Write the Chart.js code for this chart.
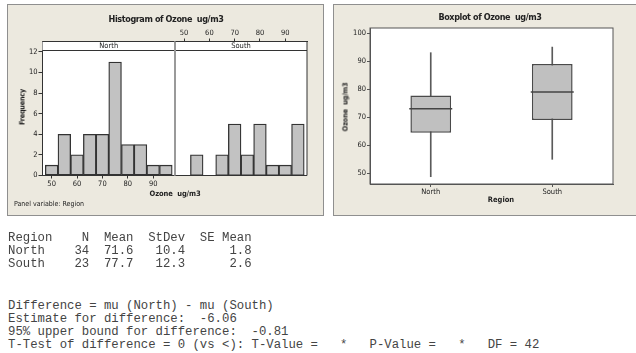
<!DOCTYPE html>
<html>
<head>
<meta charset="utf-8">
<script src="https://cdn.jsdelivr.net/npm/chart.js@4/dist/chart.umd.min.js"></script>
<style>
body { margin: 0; background: #fff; width: 636px; height: 353px; overflow: hidden; position: relative;
       font-family: 'DejaVu Sans Condensed', 'Liberation Sans', sans-serif; }
.panel { position: absolute; box-sizing: border-box; background: #ECE9DF; border: 1px solid #8f8f8f; }
canvas { position: absolute; left: 0; top: 0; }
.t { position: absolute; white-space: nowrap; color: #222; transform: translate(-50%, -50%); }
.b { font-weight: bold; }
.rot { transform: translate(-50%, -50%) rotate(-90deg); }
pre { position: absolute; margin: 0; font-family: 'Liberation Mono', 'Courier New', monospace;
      font-size: 12.3px; line-height: 12.9px; color: #444; }
</style>
</head>
<body>
<div class="panel" style="left:7px;top:4px;width:317px;height:212px"></div>
<div class="panel" style="left:333px;top:4px;width:320px;height:212px"></div>

<canvas id="northHist" width="330" height="220"></canvas>
<canvas id="southHist" width="330" height="220"></canvas>
<canvas id="boxplot" width="636" height="220"></canvas>

<div class="t b" style="left:166px;top:19px;font-size:9px;letter-spacing:-0.4px">Histogram of Ozone&nbsp; ug/m3</div>
<div class="t b rot" style="left:22px;top:107px;font-size:7.2px;letter-spacing:-0.2px">Frequency</div>
<div class="t b" style="left:175px;top:193px;font-size:7.5px;letter-spacing:-0.1px">Ozone&nbsp; ug/m3</div>
<div class="t" style="left:14px;top:204px;font-size:7px;transform:translate(0,-50%)">Panel variable: Region</div>
<div class="t b" style="left:490px;top:17px;font-size:9px;letter-spacing:-0.4px">Boxplot of Ozone&nbsp; ug/m3</div>
<div class="t b rot" style="left:345px;top:107px;font-size:7.2px;letter-spacing:-0.1px">Ozone&nbsp; ug/m3</div>
<div class="t b" style="left:501px;top:199px;font-size:7.5px">Region</div>

<pre style="left:8px;top:232px">Region    N  Mean  StDev  SE Mean
North    34  71.6   10.4      1.8
South    23  77.7   12.3      2.6</pre>
<pre style="left:8px;top:300px">Difference = mu (North) - mu (South)
Estimate for difference:  -6.06
95% upper bound for difference:  -0.81
T-Test of difference = 0 (vs &lt;): T-Value =   *   P-Value =   *   DF = 42</pre>

<script>
const binCenters = [50, 55, 60, 65, 70, 75, 80, 85, 90, 95];
const northCounts = [1, 4, 2, 4, 4, 11, 3, 3, 1, 1];
const southCounts = [0, 2, 0, 2, 5, 2, 5, 1, 1, 5];
const ozoneBinTicks = [50, 60, 70, 80, 90];
const freqTicks = [0, 2, 4, 6, 8, 10, 12];

const regions = ['North', 'South'];
// min, Q1, median, Q3, max
const northBox = [48.8, 64.5, 73, 77.7, 93];
const southBox = [55, 69, 79, 89, 95];
const ozoneTicks = [50, 60, 70, 80, 90, 100];

const FONT = "'DejaVu Sans Condensed', 'Liberation Sans', sans-serif";
const tickFont = { family: FONT, size: 7.5 };

// white plot area + strip header (North / South) + frame lines
const stripPlugin = {
  id: 'strip',
  beforeDraw(chart) {
    const { ctx, chartArea: a } = chart;
    ctx.save();
    ctx.fillStyle = '#fff';
    ctx.fillRect(a.left, a.top, a.right - a.left, a.bottom - a.top);
    ctx.restore();
  },
  afterDatasetsDraw(chart, args, opts) {
    const { ctx, chartArea: a } = chart;
    ctx.save();
    ctx.fillStyle = '#fff';
    ctx.fillRect(a.left, a.top, a.right - a.left, 9);
    ctx.strokeStyle = '#333';
    ctx.lineWidth = 1;
    ctx.beginPath();
    ctx.moveTo(a.left, a.top); ctx.lineTo(a.right, a.top);
    ctx.moveTo(a.left, a.top + 9); ctx.lineTo(a.right, a.top + 9);
    ctx.moveTo(a.left, a.bottom); ctx.lineTo(a.right, a.bottom);
    if (opts.side == 'left') { ctx.moveTo(a.right, a.top); ctx.lineTo(a.right, a.bottom); }
    ctx.stroke();
    // gray divider between the two panels
    ctx.strokeStyle = '#9a9a9a';
    ctx.lineWidth = 2;
    const dx = opts.side == 'left' ? a.left : a.right;
    ctx.beginPath();
    ctx.moveTo(dx, a.top); ctx.lineTo(dx, a.bottom);
    ctx.stroke();
    ctx.fillStyle = '#222';
    ctx.font = '7.5px ' + FONT;
    ctx.textAlign = 'center';
    ctx.textBaseline = 'middle';
    ctx.fillText(opts.text, (a.left + a.right) / 2, a.top + 4.8);
    ctx.restore();
  }
};

function histData(counts) {
  return {
    datasets: [{
      data: binCenters.map((x, i) => ({ x: x, y: counts[i] })),
      backgroundColor: '#C2C2C2',
      borderColor: '#333',
      borderWidth: 1.3,
      borderSkipped: false,
      barPercentage: 1,
      categoryPercentage: 1,
    }]
  };
}

const histX = (pos) => ({
  type: 'linear',
  position: pos,
  min: 46.4,
  max: 98.6,
  offset: false,
  afterBuildTicks: (s) => { s.ticks = ozoneBinTicks.map(v => ({ value: v })); },
  afterFit: (s) => { s.height = pos == 'top' ? 12 : 18; },
  ticks: { font: tickFont, color: '#222', padding: 1, maxRotation: 0 },
  grid: { offset: false, drawOnChartArea: false, tickLength: 3, color: '#333' },
  border: { color: '#333' },
});

const histY = (show) => ({
  min: 0,
  max: 13,
  display: show,
  afterBuildTicks: (s) => { s.ticks = freqTicks.map(v => ({ value: v })); },
  afterFit: (s) => { s.width = show ? 30 : 0; },
  ticks: { font: tickFont, color: '#222', padding: 1 },
  grid: { drawOnChartArea: false, tickLength: 4, color: '#333' },
  border: { color: '#333' },
});

const configNorth = {
  type: 'bar',
  data: histData(northCounts),
  options: {
    responsive: false,
    animation: false,
    layout: { padding: { left: 12.5, right: 155, top: 41.5, bottom: 26.5 } },
    scales: { x: histX('bottom'), y: histY(true) },
    plugins: { legend: { display: false }, tooltip: { enabled: false }, strip: { text: 'North', side: 'right' } }
  },
  plugins: [stripPlugin]
};

const configSouth = {
  type: 'bar',
  data: histData(southCounts),
  options: {
    responsive: false,
    animation: false,
    layout: { padding: { left: 175, right: 23, top: 29.5, bottom: 44.5 } },
    scales: { x: histX('top'), y: histY(false) },
    plugins: { legend: { display: false }, tooltip: { enabled: false }, strip: { text: 'South', side: 'left' } }
  },
  plugins: [stripPlugin]
};

new Chart(document.getElementById('northHist'), configNorth);
new Chart(document.getElementById('southHist'), configSouth);

// boxplot built from floating bars (box, whisker) and a line-shaped point (median)
const boxes = [northBox, southBox];

const framePlugin = {
  id: 'frame',
  beforeDraw(chart) {
    const { ctx, chartArea: a } = chart;
    ctx.save();
    ctx.fillStyle = '#fff';
    ctx.fillRect(a.left, a.top, a.right - a.left, a.bottom - a.top);
    ctx.restore();
  },
  afterDraw(chart) {
    const { ctx, chartArea: a } = chart;
    ctx.save();
    ctx.strokeStyle = '#555';
    ctx.lineWidth = 1;
    ctx.strokeRect(a.left, a.top, a.right - a.left, a.bottom - a.top);
    ctx.restore();
  }
};

const configBox = {
  type: 'bar',
  data: {
    labels: regions,
    datasets: [
      {
        data: boxes.map(b => [b[0], b[4]]),
        backgroundColor: '#5a5a5a',
        borderWidth: 0,
        barThickness: 1,
        grouped: false,
        order: 3,
      },
      {
        data: boxes.map(b => [b[1], b[3]]),
        backgroundColor: '#C0C0C0',
        borderColor: '#4a4a4a',
        borderWidth: 1.5,
        borderSkipped: false,
        barPercentage: 0.335,
        categoryPercentage: 1,
        grouped: false,
        order: 2,
      },
      {
        type: 'line',
        data: boxes.map(b => b[2]),
        showLine: false,
        pointStyle: 'line',
        pointRadius: 21.5,
        pointBorderWidth: 1.5,
        pointBorderColor: '#444',
        order: 1,
      }
    ]
  },
  options: {
    responsive: false,
    animation: false,
    layout: { padding: { left: 340, right: 4, top: 28, bottom: 20 } },
    scales: {
      x: {
        afterFit: (s) => { s.height = 16; },
        ticks: { font: tickFont, color: '#222', padding: 1 },
        grid: { offset: false, drawOnChartArea: false, tickLength: 3, color: '#555' },
        border: { color: '#555' },
      },
      y: {
        min: 46.2,
        max: 101.8,
        afterBuildTicks: (s) => { s.ticks = ozoneTicks.map(v => ({ value: v })); },
        afterFit: (s) => { s.width = 30; },
        ticks: { font: tickFont, color: '#222', padding: 1 },
        grid: { drawOnChartArea: false, tickLength: 3, color: '#555' },
        border: { color: '#555' },
      }
    },
    plugins: { legend: { display: false }, tooltip: { enabled: false } }
  },
  plugins: [framePlugin]
};

new Chart(document.getElementById('boxplot'), configBox);
</script>
</body>
</html>
